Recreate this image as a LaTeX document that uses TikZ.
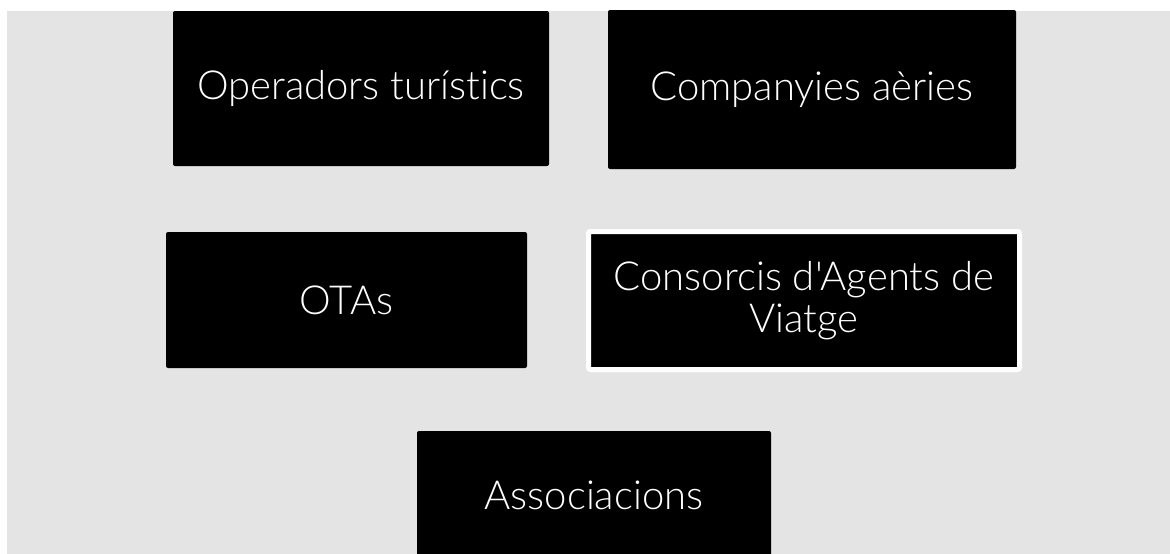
\documentclass[tikz,border=0pt]{standalone}
\usepackage{fontspec}
\newfontfamily\boxfont{Lato Light}[Ligatures={NoCommon}]
\definecolor{panelgrey}{HTML}{E4E4E4}
\begin{document}
\begin{tikzpicture}[x=1pt,y=-1pt,
    main/.style = {fill=black, text=white, rounded corners=2pt, inner sep=0pt, align=center,
                   font=\boxfont\fontsize{40}{42}\selectfont}]
                \useasboundingbox (0,0) rectangle (1170,554);
                \fill[panelgrey] (7,11) rectangle (1170,554);
                \node[main, minimum width=376pt, minimum height=155pt] (1) at (361,88.5) {Operadors turístics};
                \node[main, minimum width=408pt, minimum height=159pt] (2) at (812,89.5) {Companyies aèries};
                \node[main, minimum width=361pt, minimum height=136pt] (3) at (346.5,300) {OTAs};
                \node[main, draw=white, line width=5pt, minimum width=431pt, minimum height=138pt] (4) at (804,300.5) {Consorcis d'Agents de\\Viatge};
                \node[main, minimum width=354pt, minimum height=128pt] (5) at (594,495) {Associacions};
            \end{tikzpicture}
\end{document}
